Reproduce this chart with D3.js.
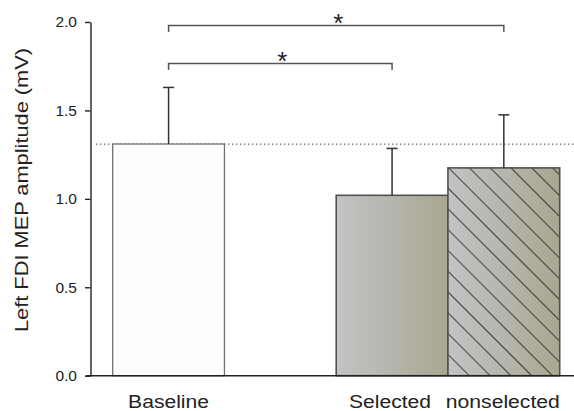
<!DOCTYPE html>
<html>
<head>
<meta charset="utf-8">
<script src="https://cdn.jsdelivr.net/npm/d3@7"></script>
<style>
  html, body { margin: 0; padding: 0; background: #fff; }
  svg { display: block; }
  text { font-family: "Liberation Sans", Arial, Helvetica, sans-serif; fill: #222; }
</style>
</head>
<body>
<svg id="chart" width="574" height="411"></svg>
<script>
// Slots along the x axis (one empty slot separates Baseline from the two conditions)
const slots = ["Baseline", "", "Selected", "nonselected"];
const categories = ["Baseline", "Selected", "nonselected"];
const means = [1.31, 1.02, 1.175];
const sdUpper = [1.63, 1.285, 1.475];
const fills = ["plain", "gradient", "hatched"];
const yTicks = [0.0, 0.5, 1.0, 1.5, 2.0];
const baselineRef = 1.31;
// Significance brackets: from / to category and bracket height (mV)
const bracketFrom = ["Baseline", "Baseline"];
const bracketTo = ["nonselected", "Selected"];
const bracketLevel = [1.98, 1.765];
const bracketMark = ["*", "*"];

const svg = d3.select("#chart");
const axisX = 90.5;
const y = d3.scaleLinear().domain([0, 2]).range([375.7, 22]);
const x = d3.scaleBand().domain(slots).range([112.7, 559.7]).padding(0);
const bw = x.bandwidth();
const cx = c => x(c) + bw / 2;

const defs = svg.append("defs");
const grad = defs.append("linearGradient").attr("id", "barGrad")
  .attr("x1", "0%").attr("x2", "100%").attr("y1", "0%").attr("y2", "0%");
grad.append("stop").attr("offset", "0%").attr("stop-color", "#c2c4c6");
grad.append("stop").attr("offset", "100%").attr("stop-color", "#a9a790");

// Reference dotted line at the baseline mean
svg.append("line")
  .attr("x1", 96).attr("x2", 574)
  .attr("y1", y(baselineRef)).attr("y2", y(baselineRef))
  .attr("stroke", "#666").attr("stroke-width", 1.3)
  .attr("stroke-dasharray", "1.4,2.6");

// Bars
categories.forEach((c, i) => {
  const x0 = x(c), y0 = y(means[i]);
  const h = y(0) - y0;
  if (fills[i] === "plain") {
    svg.append("rect").attr("x", x0).attr("y", y0).attr("width", bw).attr("height", h)
      .attr("fill", "#fdfdfd").attr("stroke", "#707070").attr("stroke-width", 1.3);
  } else {
    svg.append("rect").attr("x", x0).attr("y", y0).attr("width", bw).attr("height", h)
      .attr("fill", "url(#barGrad)");
    if (fills[i] === "hatched") {
      const pid = "hatch" + i;
      const p = defs.append("pattern").attr("id", pid)
        .attr("patternUnits", "userSpaceOnUse")
        .attr("width", 14.7).attr("height", 10)
        .attr("patternTransform", `translate(${x0},${y0}) rotate(-45)`);
      p.append("line").attr("x1", 0).attr("x2", 0).attr("y1", -1).attr("y2", 11)
        .attr("stroke", "#1e1e1e").attr("stroke-width", 1.6);
      svg.append("rect").attr("x", x0).attr("y", y0).attr("width", bw).attr("height", h)
        .attr("fill", `url(#${pid})`);
    }
    svg.append("rect").attr("x", x0).attr("y", y0).attr("width", bw).attr("height", h)
      .attr("fill", "none").attr("stroke", "#505050").attr("stroke-width", 1.6);
  }
});

// Error bars (upper only)
categories.forEach((c, i) => {
  const g = svg.append("g").attr("stroke", "#333").attr("stroke-width", 1.5);
  g.append("line").attr("x1", cx(c)).attr("x2", cx(c))
    .attr("y1", y(means[i])).attr("y2", y(sdUpper[i]));
  g.append("line").attr("x1", cx(c) - 5.5).attr("x2", cx(c) + 5.5)
    .attr("y1", y(sdUpper[i])).attr("y2", y(sdUpper[i]));
});

// Y axis
const yAxis = d3.axisLeft(y).tickValues(yTicks).tickFormat(d3.format(".1f"))
  .tickSizeInner(5.5).tickSizeOuter(0).tickPadding(8);
const ya = svg.append("g").attr("transform", `translate(${axisX},0)`).call(yAxis);
ya.select(".domain").attr("stroke", "#222").attr("stroke-width", 1.4);
ya.selectAll(".tick line").attr("stroke", "#222").attr("stroke-width", 1.4);
ya.selectAll(".tick text").attr("font-size", 15.5).attr("fill", "#222")
  .style("font-family", "'Liberation Sans', Arial, sans-serif");

// X axis line
svg.append("line").attr("x1", 86).attr("x2", 574)
  .attr("y1", y(0)).attr("y2", y(0))
  .attr("stroke", "#222").attr("stroke-width", 1.4);

// Category labels
const labelWidths = { "Baseline": 81, "Selected": 82, "nonselected": 114 };
const labelShift = { "Baseline": 0, "Selected": -2, "nonselected": -1 };
categories.forEach(c => {
  svg.append("text").attr("x", cx(c) + labelShift[c]).attr("y", 408)
    .attr("text-anchor", "middle").attr("font-size", 17.5)
    .attr("textLength", labelWidths[c]).attr("lengthAdjust", "spacingAndGlyphs")
    .text(c);
});

// Y axis title
svg.append("text")
  .attr("transform", "translate(28,190) rotate(-90)")
  .attr("text-anchor", "middle").attr("font-size", 18)
  .attr("textLength", 284).attr("lengthAdjust", "spacingAndGlyphs")
  .text("Left FDI MEP amplitude (mV)");

// Significance brackets
bracketFrom.forEach((f, i) => {
  const x1 = cx(f), x2 = cx(bracketTo[i]), yy = y(bracketLevel[i]);
  svg.append("path")
    .attr("d", `M${x1},${yy + 6.5}V${yy}H${x2}V${yy + 6.5}`)
    .attr("fill", "none").attr("stroke", "#555").attr("stroke-width", 1.5);
  svg.append("text").attr("x", (x1 + x2) / 2 + 2).attr("y", yy + 6)
    .attr("text-anchor", "middle").attr("font-size", 26).attr("fill", "#333")
    .text(bracketMark[i]);
});
</script>
</body>
</html>
